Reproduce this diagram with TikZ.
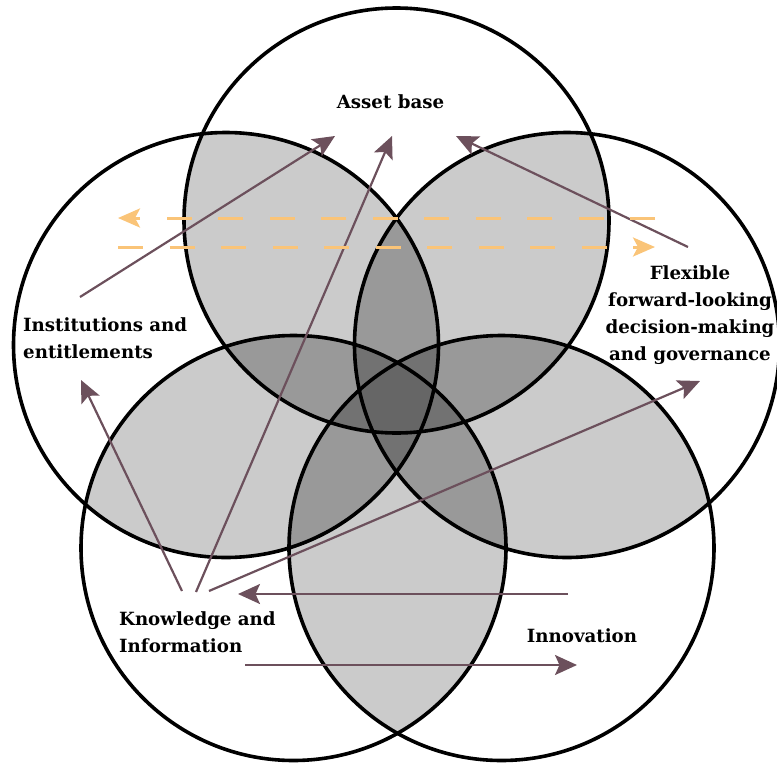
\documentclass[tikz,border=0pt]{standalone}
\usepackage{fontspec}
\setmainfont{DejaVu Serif}
\usetikzlibrary{arrows.meta}
\definecolor{arrowc}{RGB}{108,80,92}
\definecolor{dashc}{RGB}{250,196,120}
\definecolor{gtwo}{RGB}{203,203,203}
\definecolor{gthree}{RGB}{153,153,153}
\definecolor{gfour}{RGB}{114,114,114}
\definecolor{gfive}{RGB}{102,102,102}
\tikzset{
  ring/.style={draw=black, line width=3.6pt},
  lbl/.style={inner sep=0pt, font={\fontsize{18.2pt}{27pt}\selectfont\bfseries}},
  link/.style={draw=arrowc, line width=2.2pt, -{Stealth[length=22pt,width=20pt,inset=4.5pt]}},
  flow/.style={draw=dashc, line width=3pt, dash pattern=on 25pt off 26.5pt, -{Stealth[length=22pt,width=19pt,inset=5pt]}}
}
\begin{document}
\begin{tikzpicture}[x=1pt,y=-1pt]
\useasboundingbox (0,0) rectangle (777,766);
\clip (0,0) rectangle (777,766);
\def\R{212.5pt}
\coordinate (A) at (396.5,220.5);
\coordinate (B) at (226,345);
\coordinate (C) at (567,345);
\coordinate (D) at (293.5,548);
\coordinate (E) at (501.5,548);
% two-fold overlaps
\foreach \i/\j in {A/B,A/C,A/D,A/E,B/C,B/D,B/E,C/D,C/E,D/E}{
  \begin{scope}
    \clip (\i) circle[radius=\R];
    \fill[gtwo] (\j) circle[radius=\R];
  \end{scope}
}
% three-fold overlaps
\foreach \i/\j/\k in {A/B/C,A/B/D,A/B/E,A/C/D,A/C/E,A/D/E,B/C/D,B/C/E,B/D/E,C/D/E}{
  \begin{scope}
    \clip (\i) circle[radius=\R];
    \clip (\j) circle[radius=\R];
    \fill[gthree] (\k) circle[radius=\R];
  \end{scope}
}
% four-fold overlaps
\foreach \i/\j/\k/\l in {A/B/C/D,A/B/C/E,A/B/D/E,A/C/D/E,B/C/D/E}{
  \begin{scope}
    \clip (\i) circle[radius=\R];
    \clip (\j) circle[radius=\R];
    \clip (\k) circle[radius=\R];
    \fill[gfour] (\l) circle[radius=\R];
  \end{scope}
}
% five-fold overlap
\begin{scope}
  \clip (A) circle[radius=\R];
  \clip (B) circle[radius=\R];
  \clip (C) circle[radius=\R];
  \clip (D) circle[radius=\R];
  \fill[gfive] (E) circle[radius=\R];
\end{scope}
% outlines
\foreach \c in {A,B,C,D,E}{
  \draw[ring] (\c) circle[radius=\R];
}
% labels
\node[lbl, anchor=base] (asset) at (390.5,108) {Asset base};
\node[lbl, anchor=base, align=center] (flex) at (690,360) {Flexible\\forward-looking\\decision-making\\and governance};
\node[lbl, anchor=base west, align=left] (inst) at (23,358) {Institutions and\\entitlements};
\node[lbl, anchor=base west, align=left] (know) at (119,652) {Knowledge and\\Information};
\node[lbl, anchor=base] (innov) at (582,642) {Innovation};
% arrow end points
\coordinate (s1) at (80,297);   \coordinate (t1) at (335,136);
\coordinate (s2) at (196,592);  \coordinate (t2) at (392,136);
\coordinate (s3) at (688,247);  \coordinate (t3) at (456,136);
\coordinate (s4) at (182,591);  \coordinate (t4) at (81,380);
\coordinate (s5) at (209,591);  \coordinate (t5) at (700,381);
\coordinate (s6) at (568,594);  \coordinate (t6) at (238,594);
\coordinate (s7) at (245,665);  \coordinate (t7) at (577,665);
\coordinate (u1) at (655,218);  \coordinate (v1) at (118,218);
\coordinate (u2) at (118,247);  \coordinate (v2) at (655,247);
% connectors
\draw[link] (s1) -- (t1);
\draw[link] (s2) -- (t2);
\draw[link] (s3) -- (t3);
\draw[link] (s4) -- (t4);
\draw[link] (s5) -- (t5);
\draw[link] (s6) -- (t6);
\draw[link] (s7) -- (t7);
\draw[flow] (u1) -- (v1);
\draw[flow] (u2) -- (v2);
\end{tikzpicture}
\end{document}
